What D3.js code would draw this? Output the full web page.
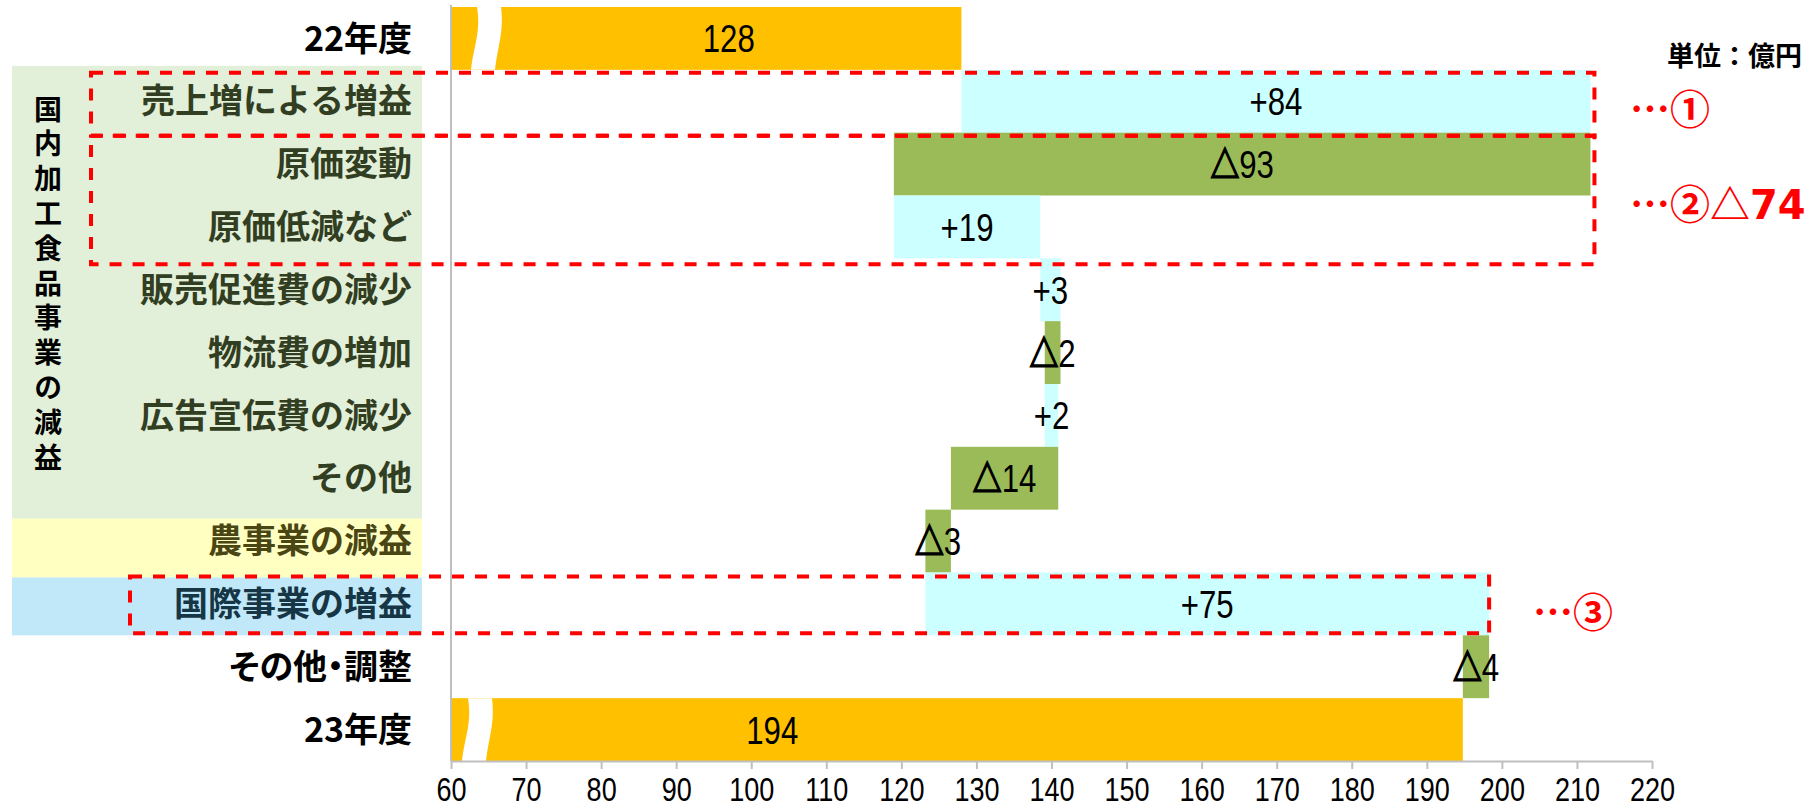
<!DOCTYPE html>
<html>
<head>
<meta charset="utf-8">
<script src="https://cdn.jsdelivr.net/npm/d3@7"></script>
<style>
  body { margin: 0; background: #fff; }
  svg { display: block; }
  .cat { font-family: "Noto Sans CJK JP", sans-serif; font-weight: bold; font-size: 34px; }
  .axis path, .axis line { stroke: #bfbfbf; stroke-width: 2; }
  .axis text { font-family: "Liberation Sans", sans-serif; font-size: 33px; fill: #000; }
  .note { font-family: "Noto Sans CJK JP", sans-serif; font-weight: bold; fill: #ff0000; }
</style>
</head>
<body>
<svg id="chart"></svg>
<script>
var width = 1819;
var height = 810;

// data (億円)
var categories = ["22年度", "売上増による増益", "原価変動", "原価低減など", "販売促進費の減少",
  "物流費の増加", "広告宣伝費の減少", "その他", "農事業の減益", "国際事業の増益", "その他・調整", "23年度"];
var kinds = ["total", "up", "down", "up", "up", "down", "up", "down", "down", "up", "down", "total"];
var values = [128, 83.8, -92.8, 19.5, 2.7, -2.1, 1.8, -14.3, -3.4, 75.1, -3.5, 194.8];
var labels = ["128", "+84", "△93", "+19", "+3", "△2", "+2", "△14", "△3", "+75", "△4", "194"];
var tickValues = [60, 70, 80, 90, 100, 110, 120, 130, 140, 150, 160, 170, 180, 190, 200, 210, 220];
var groupTitle = "国内加工食品事業の減益";

var colors = { total: "#ffc000", up: "#ccffff", down: "#9bbb59" };

var chart = d3.select("#chart")
    .attr("width", width)
    .attr("height", height);

var x = d3.scaleLinear()
    .domain([60, 220])
    .range([451, 1652]);

var y = d3.scaleBand()
    .domain(categories)
    .range([7, 761])
    .padding(0);

var bw = y.bandwidth();

// running start/end of every bar
var running = 0;
var bars = categories.map(function(c, i) {
  var d = { cat: c, kind: kinds[i], label: labels[i] };
  if (kinds[i] == "total") {
    d.start = 60; d.end = values[i];
    running = values[i];
  } else {
    d.start = running; d.end = running + values[i];
    running = d.end;
  }
  return d;
});

// label backgrounds
var yc = function(i) { return y(categories[i]); };
chart.append("rect")
    .attr("x", 12).attr("width", 410)
    .attr("y", yc(1) - 4)
    .attr("height", yc(8) + 9 - (yc(1) - 4))
    .attr("fill", "#e2efd9");
chart.append("rect")
    .attr("x", 12).attr("width", 410)
    .attr("y", yc(8) + 9)
    .attr("height", yc(9) + 5 - (yc(8) + 9))
    .attr("fill", "#ffffc2");
chart.append("rect")
    .attr("x", 12).attr("width", 410)
    .attr("y", yc(9) + 5)
    .attr("height", bw - 5)
    .attr("fill", "#c0e8f8");

// vertical group title, one text written top to bottom
chart.append("text")
    .attr("x", 48)
    .attr("y", 95)
    .attr("font-family", "Noto Sans CJK JP, sans-serif")
    .attr("font-weight", "bold")
    .attr("font-size", 28)
    .style("writing-mode", "vertical-rl")
    .style("text-orientation", "upright")
    .style("letter-spacing", "6.8px")
    .text(groupTitle);

// category labels
var catColor = function(i) {
  if (i >= 1 && i <= 7) return "#323e22";
  if (i == 8) return "#4a4614";
  if (i == 9) return "#163646";
  return "#000";
};
chart.append("g").selectAll("text")
    .data(categories)
  .enter().append("text")
    .attr("class", "cat")
    .attr("x", 412)
    .attr("y", function(d) { return y(d) + bw / 2; })
    .attr("dy", "0.36em")
    .attr("text-anchor", "end")
    .attr("fill", function(d, i) { return catColor(i); })
    .style("font-feature-settings", function(d) { return d.indexOf("・") >= 0 ? "'palt'" : null; })
    .text(function(d) { return d; });

// bars
chart.append("g").selectAll("rect")
    .data(bars)
  .enter().append("rect")
    .attr("x", function(d) { return x(Math.min(d.start, d.end)); })
    .attr("width", function(d) { return Math.abs(x(d.end) - x(d.start)); })
    .attr("y", function(d) { return y(d.cat); })
    .attr("height", bw)
    .attr("fill", function(d) { return colors[d.kind]; });

// axis break marks on the total bars
var breakAt = { "22年度": 62.8, "23年度": 61.6 };
[categories[0], categories[11]].forEach(function(c) {
  var x0 = x(breakAt[c]);
  var t = y(c), b = y(c) + bw;
  var p = "M" + (x0 + 5) + "," + t
    + "C" + (x0 + 9) + "," + (t + bw * 0.4) + " " + (x0 + 2) + "," + (t + bw * 0.6) + " " + (x0 - 1) + "," + b
    + "L" + (x0 + 23) + "," + b
    + "C" + (x0 + 26) + "," + (t + bw * 0.6) + " " + (x0 + 32) + "," + (t + bw * 0.4) + " " + (x0 + 29) + "," + t
    + "Z";
  chart.append("path").attr("d", p).attr("fill", "#fff");
});

// value labels (narrow figures)
var labelAt = { "22年度": 97.0, "23年度": 102.8 };
var vl = chart.append("g").selectAll("text")
    .data(bars)
  .enter().append("text")
    .attr("font-family", "Liberation Sans, sans-serif")
    .attr("font-size", 39)
    .attr("transform", function(d) {
      var cx = d.kind == "total" ? x(labelAt[d.cat]) : x((d.start + d.end) / 2);
      return "translate(" + cx + "," + (y(d.cat) + bw / 2) + ") scale(0.8,1)";
    })
    .attr("dy", "0.36em")
    .attr("text-anchor", "middle");
vl.each(function(d) {
  var t = d3.select(this);
  if (d.label.charAt(0) == "△") {
    t.append("tspan")
        .attr("font-family", "Noto Sans CJK JP, sans-serif")
        .attr("font-weight", "bold")
        .attr("font-size", 36)
        .attr("stroke", "#000")
        .attr("stroke-width", 1.6)
        .text("△");
    t.append("tspan").text(d.label.slice(1));
  } else {
    t.text(d.label);
  }
});

// axes
chart.append("line")
    .attr("x1", x(60)).attr("x2", x(60))
    .attr("y1", 5).attr("y2", 761)
    .attr("stroke", "#bfbfbf").attr("stroke-width", 2);

chart.append("g")
    .attr("class", "axis")
    .attr("transform", "translate(0,761)")
    .call(d3.axisBottom(x).tickValues(tickValues).tickSize(8).tickSizeOuter(0).tickPadding(9))
  .selectAll("text")
    .attr("transform", "scale(0.82,1)");

// red dashed boxes
var box = function(x1, y1, x2, y2) {
  chart.append("rect")
      .attr("x", x1).attr("y", y1)
      .attr("width", x2 - x1).attr("height", y2 - y1)
      .attr("fill", "none")
      .attr("stroke", "#ff0000")
      .attr("stroke-width", 4)
      .attr("stroke-dasharray", "12,11");
};
box(91, y(categories[1]) + 3, x(bars[1].end) + 4, y(categories[2]) + 3);
box(91, y(categories[2]) + 3, x(bars[1].end) + 4, y(categories[3]) + bw + 6);
box(130, y(categories[9]) + 4, x(bars[9].end), y(categories[9]) + bw - 2);

// notes on the right
chart.append("text")
    .attr("x", 1802).attr("y", 56).attr("dy", "0.36em")
    .attr("text-anchor", "end")
    .attr("font-family", "Noto Sans CJK JP, sans-serif")
    .attr("font-weight", "bold")
    .attr("font-size", 27)
    .text("単位：億円");

chart.append("text").attr("class", "note")
    .attr("x", 1630).attr("y", 110).attr("dy", "0.36em")
    .attr("font-size", 40)
    .text("…①");

var n2 = chart.append("text").attr("class", "note")
    .attr("x", 1630).attr("y", 205).attr("dy", "0.36em")
    .attr("font-size", 40);
n2.append("tspan").text("…②△");
n2.append("tspan").attr("font-family", "DejaVu Sans, sans-serif").text("74");

chart.append("text").attr("class", "note")
    .attr("x", 1533).attr("y", 613).attr("dy", "0.36em")
    .attr("font-size", 40)
    .text("…③");
</script>
</body>
</html>
